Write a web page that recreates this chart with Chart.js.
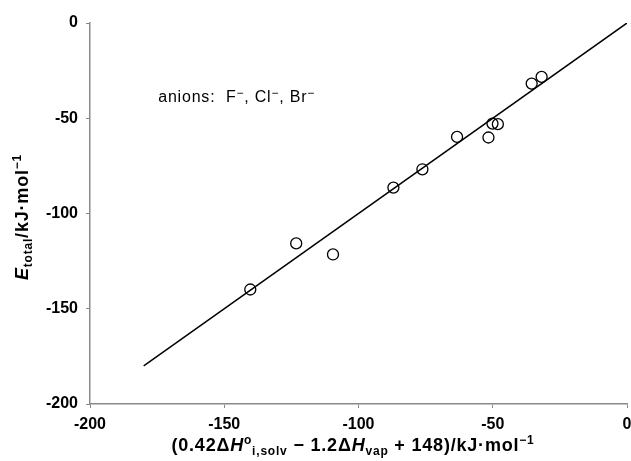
<!DOCTYPE html>
<html>
<head>
<meta charset="utf-8">
<script src="https://cdn.jsdelivr.net/npm/chart.js@4.4.1/dist/chart.umd.min.js"></script>
<style>
  html, body { margin: 0; padding: 0; background: #fff; }
  #wrap { width: 631px; height: 461px; position: relative; }
</style>
</head>
<body>
<div id="wrap"><canvas id="chart"></canvas></div>
<script>
// measured points (x = 0.42ΔH°i,solv − 1.2ΔHvap + 148, y = Etotal), kJ/mol
const xValues = [-31.8, -35.5, -50.1, -48.1, -51.6, -63.3, -76.2, -87.0, -109.5, -123.2, -140.3];
const yValues = [-28.3, -31.8, -52.8, -53.1, -60.1, -59.8, -76.8, -86.4, -121.5, -115.7, -139.9];

// fitted line end points
const fitX = [-180, 0];
const fitY = [-180, 0];

const axisMin = -200;
const axisMax = 0;
const tickStep = 50;

const FONT = "'Liberation Sans', Arial, sans-serif";
const AXIS_GREY = '#8a8a8a';

// runs of rich text: [text, italic, kind]  kind: 'n' normal, 'sub', 'sup'
const xTitleRuns = [
    ['(0.42Δ', false, 'n'], ['H', true, 'n'], ['o', false, 'sup'], ['i,solv', false, 'sub'],
    [' − 1.2Δ', false, 'n'], ['H', true, 'n'], ['vap', false, 'sub'],
    [' + 148)/kJ·mol', false, 'n'], ['−1', false, 'sup']
];
const yTitleRuns = [
    ['E', true, 'n'], ['total', false, 'sub'], ['/kJ·mol', false, 'n'], ['−1', false, 'sup']
];
const noteRuns = [
    ['anions:  F', false, 'n'], ['−', false, 'sup'], [', Cl', false, 'n'], ['−', false, 'sup'],
    [', Br', false, 'n'], ['−', false, 'sup']
];

function runFont(r, bold, size, small) {
    return (r[1] ? 'italic ' : '') + (bold ? 'bold ' : '') + (r[2] === 'n' ? size : small) + 'px ' + FONT;
}

// draw a list of runs starting at x0 (or centred when center is true) on baseline 0
function drawRuns(ctx, runs, opts) {
    let total = 0;
    runs.forEach(r => { ctx.font = runFont(r, opts.bold, opts.size, opts.small); total += ctx.measureText(r[0]).width; });
    let x = opts.center ? -total / 2 : 0;
    runs.forEach(r => {
        ctx.font = runFont(r, opts.bold, opts.size, opts.small);
        let dy = 0;
        if (r[2] === 'sub') dy = opts.sub;
        if (r[2] === 'sup') dy = -opts.sup;
        ctx.fillText(r[0], x, dy);
        x += ctx.measureText(r[0]).width;
    });
}

const titlesPlugin = {
    id: 'titles',
    afterDraw(chart) {
        const ctx = chart.ctx;
        const xs = chart.scales.x, ys = chart.scales.y;
        ctx.save();
        ctx.fillStyle = '#000';
        ctx.textBaseline = 'alphabetic';
        ctx.textAlign = 'left';
        ctx.letterSpacing = '0.8px';

        // x axis title
        ctx.save();
        ctx.translate(353, 451);
        drawRuns(ctx, xTitleRuns, { bold: true, size: 18, small: 12, sub: 4, sup: 7, center: true });
        ctx.restore();

        // y axis title
        ctx.save();
        ctx.translate(28, 217);
        ctx.rotate(-Math.PI / 2);
        drawRuns(ctx, yTitleRuns, { bold: true, size: 18, small: 12, sub: 4, sup: 7, center: true });
        ctx.restore();

        // note
        ctx.save();
        ctx.translate(xs.getPixelForValue(-174.6), ys.getPixelForValue(-41.5));
        drawRuns(ctx, noteRuns, { bold: false, size: 16, small: 12, sub: 0, sup: 5, center: false });
        ctx.restore();

        ctx.restore();
    }
};

new Chart(document.getElementById('chart'), {
    type: 'scatter',
    data: {
        datasets: [
            {
                label: 'fit',
                data: fitX.map((x, i) => ({ x: x, y: fitY[i] })),
                showLine: true,
                borderColor: '#000',
                borderWidth: 1.5,
                pointRadius: 0,
                fill: false
            },
            {
                label: 'anions',
                data: xValues.map((x, i) => ({ x: x, y: yValues[i] })),
                pointStyle: 'circle',
                pointRadius: 5.5,
                borderColor: '#000',
                borderWidth: 1.3,
                backgroundColor: 'rgba(0,0,0,0)'
            }
        ]
    },
    options: {
        responsive: true,
        maintainAspectRatio: false,
        animation: false,
        layout: { autoPadding: false, padding: { top: 23, right: 4, left: 0, bottom: 0 } },
        plugins: {
            legend: { display: false },
            tooltip: { enabled: false }
        },
        scales: {
            x: {
                type: 'linear',
                min: axisMin,
                max: axisMax,
                border: { color: AXIS_GREY, width: 1.5 },
                grid: { drawOnChartArea: false, tickLength: 4, color: AXIS_GREY, tickColor: AXIS_GREY },
                ticks: {
                    stepSize: tickStep,
                    color: '#000',
                    padding: 7,
                    maxRotation: 0,
                    font: { family: FONT, size: 16, weight: 'bold' }
                },
                afterFit(scale) {
                    scale.height = 57;
                    // let the last label run past the edge, as in the original
                    scale.paddingLeft = 0;
                    scale.paddingRight = 0;
                }
            },
            y: {
                type: 'linear',
                min: axisMin,
                max: axisMax,
                border: { color: AXIS_GREY, width: 1.5 },
                grid: { drawOnChartArea: false, tickLength: 4, color: AXIS_GREY, tickColor: AXIS_GREY },
                ticks: {
                    stepSize: tickStep,
                    color: '#000',
                    padding: 8,
                    font: { family: FONT, size: 16, weight: 'bold' }
                },
                afterFit(scale) { scale.width = 90; }
            }
        }
    },
    plugins: [titlesPlugin]
});
</script>
</body>
</html>
